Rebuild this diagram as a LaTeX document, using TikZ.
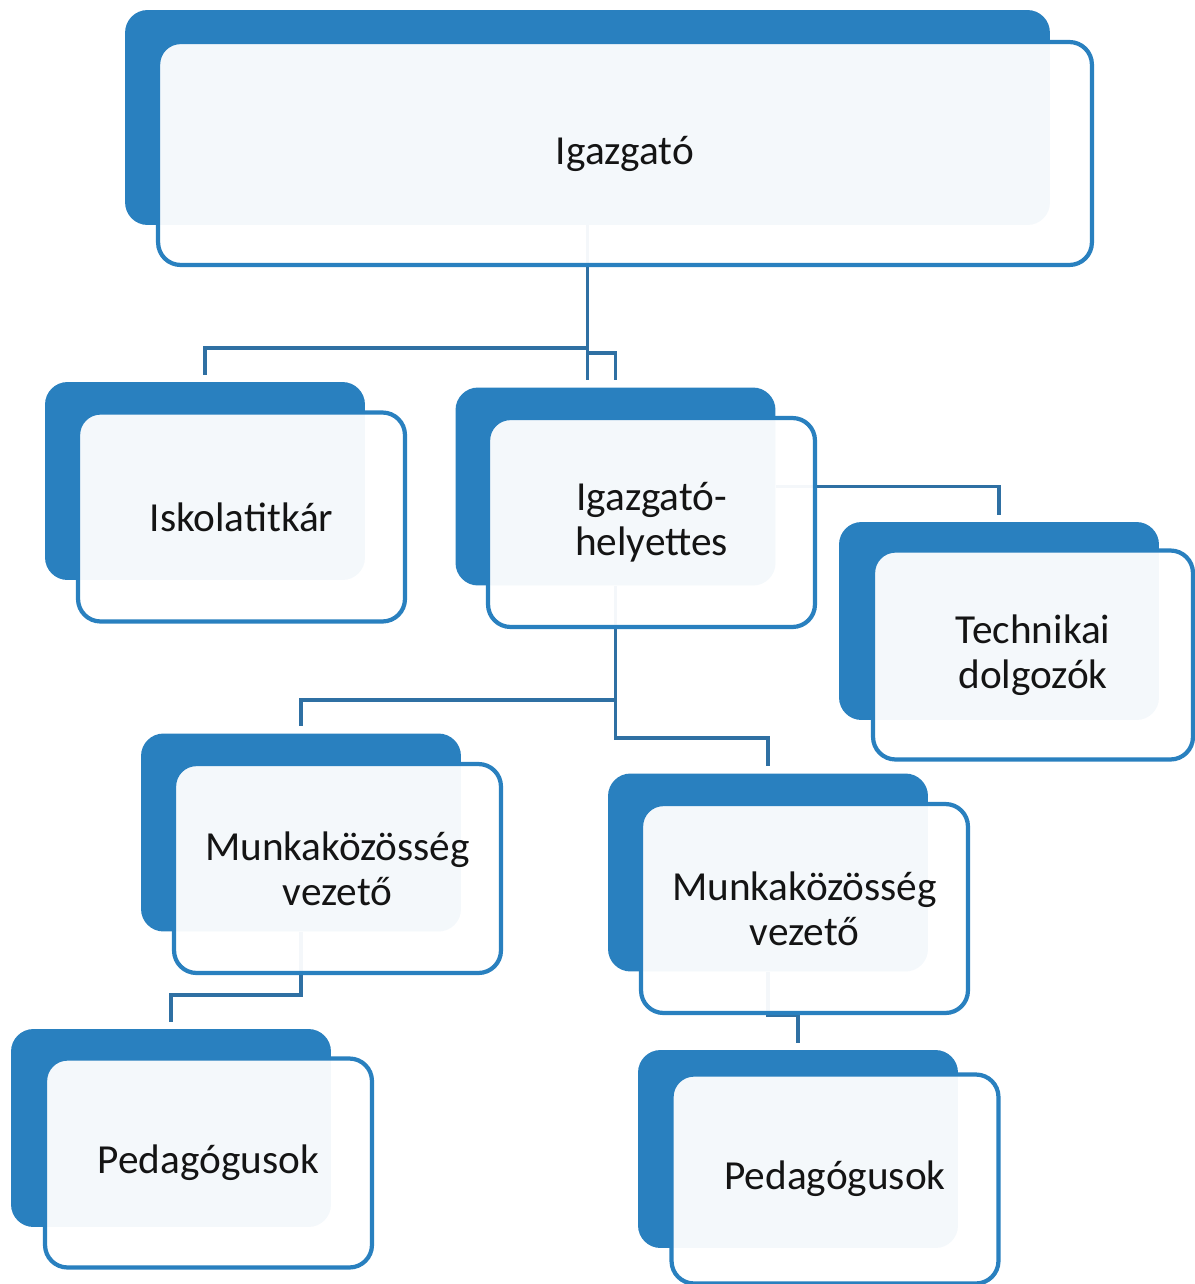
\documentclass[tikz,border=0pt]{standalone}
\usepackage{fontspec}
\setmainfont{Carlito}
\usetikzlibrary{backgrounds}
\definecolor{boxblue}{RGB}{41,128,191}
\definecolor{linkblue}{RGB}{47,112,163}
\definecolor{labelgray}{RGB}{20,20,20}

\begin{document}
\begin{tikzpicture}[x=0.02cm, y=-0.02cm,
    backbox/.style={fill=boxblue, rounded corners=0.45cm, inner sep=0pt,
        minimum width=6.4cm, minimum height=3.96cm},
    frontbox/.style={draw=boxblue, line width=2.4pt, fill=white, fill opacity=0.95,
        text opacity=1, rounded corners=0.45cm, inner sep=0pt, align=center,
        minimum width=6.54cm, minimum height=4.18cm, text=labelgray,
        font=\fontsize{23.5}{25.5}\selectfont},
    link/.style={draw=linkblue, line width=2pt, shorten >=4pt}]
    \useasboundingbox (0,0) rectangle (1195,1284);
    % back boxes
    \node[backbox, minimum width=18.5cm, minimum height=4.3cm] (dirb) at (587.5,117.5) {};
    \node[backbox] (titkarb) at (205,481) {};
    \node[backbox] (helyb) at (615.5,486.5) {};
    \node[backbox] (technb) at (999,621) {};
    \node[backbox] (mkvab) at (301,832.5) {};
    \node[backbox] (mkvbb) at (768,872.5) {};
    \node[backbox] (pedab) at (171,1128) {};
    \node[backbox] (pedbb) at (798,1149) {};
    % front boxes
    \node[frontbox, minimum width=18.68cm, minimum height=4.46cm] (dir) at (625,153.5) {Igazgató};
    \node[frontbox] (titkar) at (241.5,517) {Iskolatitkár};
    \node[frontbox] (hely) at (651.5,522.5) {Igazgató-\\helyettes};
    \node[frontbox, minimum width=6.4cm] (techn) at (1033,655) {Technikai\\dolgozók};
    \node[frontbox] (mkva) at (337.5,868.5) {Munkaközösség\\vezető};
    \node[frontbox] (mkvb) at (804.5,908.5) {Munkaközösség\\vezető};
    \node[frontbox] (peda) at (208.5,1163) {Pedagógusok};
    \node[frontbox] (pedb) at (835,1179) {Pedagógusok};
    % connectors
    \coordinate (bus1) at (0,348);
    \coordinate (bus2) at (0,353);
    \coordinate (bus3) at (0,700);
    \coordinate (bus4) at (0,738);
    \coordinate (bus5) at (0,995);
    \coordinate (bus6) at (0,1015);
    \begin{scope}[on background layer]
        \draw[link] (dirb.south) |- (bus1 -| titkarb) -- (titkarb.north);
        \draw[link] (dirb.south) |- (bus2 -| helyb) -- (helyb.north);
        \draw[link] (dirb.south) -- (dirb.south |- helyb.north);
        \draw[link] (helyb.east) -| (technb.north);
        \draw[link] (helyb.south) |- (bus3 -| mkvab) -- (mkvab.north);
        \draw[link] (helyb.south) |- (bus4 -| mkvbb) -- (mkvbb.north);
        \draw[link] (mkvab.south) |- (bus5 -| pedab) -- (pedab.north);
        \draw[link] (mkvbb.south) |- (bus6 -| pedbb) -- (pedbb.north);
    \end{scope}
\end{tikzpicture}
\end{document}
